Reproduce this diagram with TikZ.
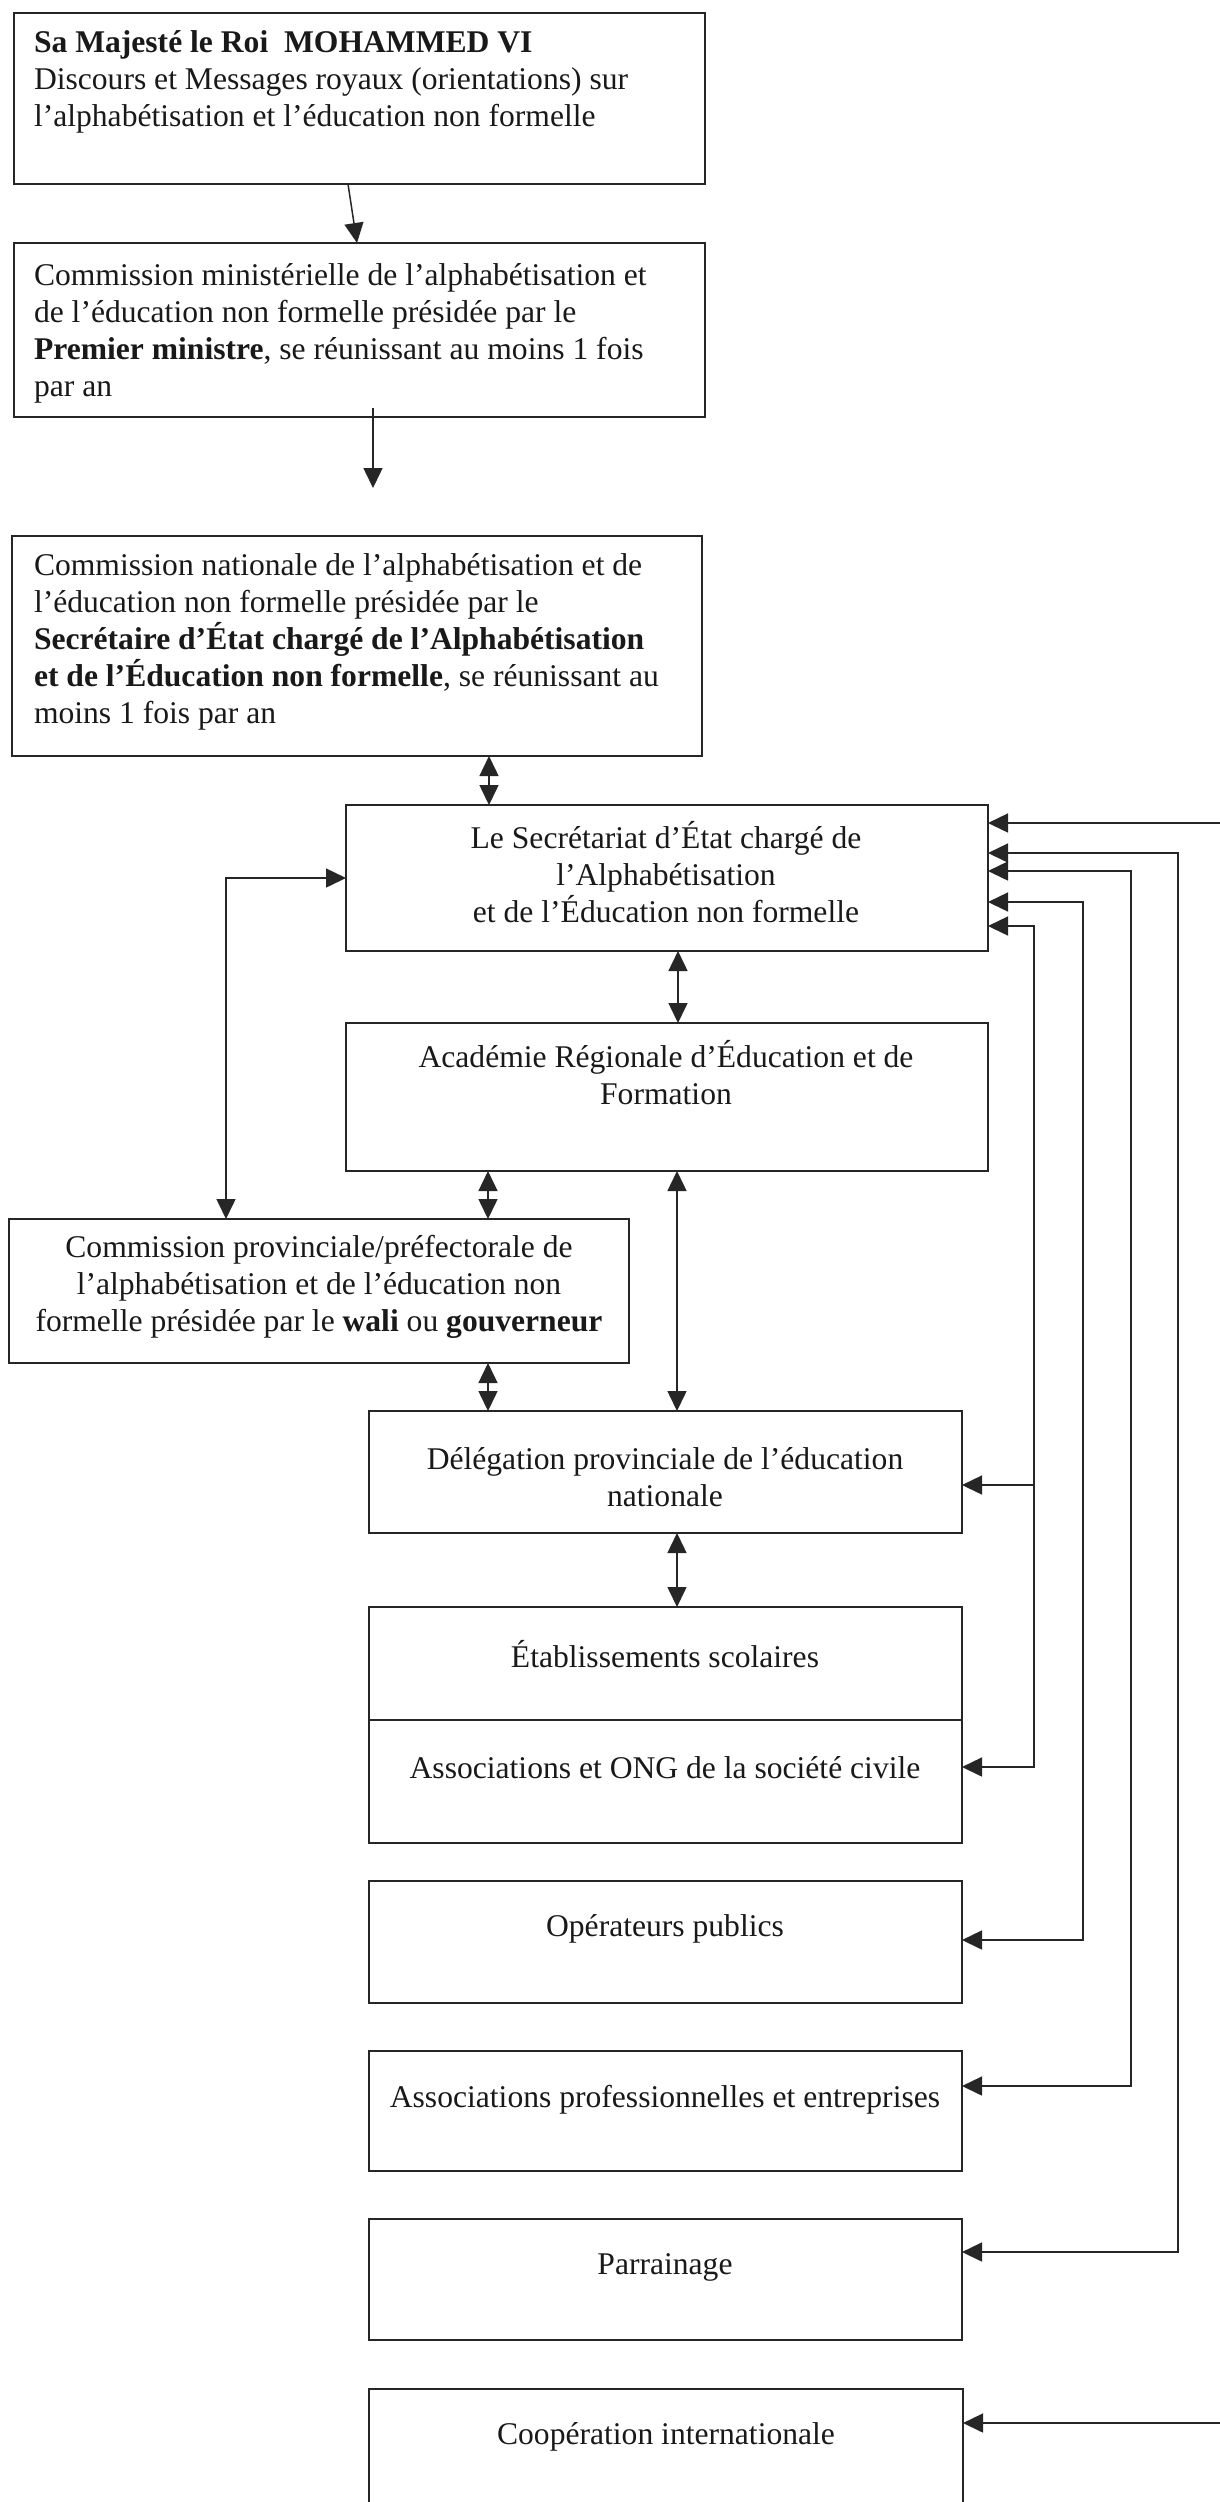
\documentclass[tikz,border=0pt]{standalone}
\usepackage{fontspec}
\setmainfont{Liberation Serif}
\usetikzlibrary{arrows.meta}
\begin{document}
\begin{tikzpicture}[x=0.5pt,y=-0.5pt,
  >={Triangle[length=10pt,width=9.5pt]},
  box/.style={draw=black!85, line width=0.8pt, anchor=north west, inner sep=0pt, outer sep=0pt},
  txt/.style={inner sep=0pt, outer sep=0pt, text=black!90, font=\fontsize{15.8pt}{18.5pt}\selectfont},
  con/.style={draw=black!85, line width=0.75pt}
  ]
\useasboundingbox (0,0) rectangle (1220,2502);
\clip (0,0) rectangle (1220,2502);
\fill[white] (0,0) rectangle (1220,2502);

% boxes
\node[box, minimum width=345.5pt, minimum height=85.5pt] (b1) at (14,13) {};
\node[box, minimum width=345.5pt, minimum height=87pt] (b2) at (14,243) {};
\node[box, minimum width=345pt, minimum height=110pt] (b3) at (12,536) {};
\node[box, minimum width=321pt, minimum height=73pt] (b4) at (346,805) {};
\node[box, minimum width=321pt, minimum height=74pt] (b5) at (346,1023) {};
\node[box, minimum width=310pt, minimum height=72pt] (b6) at (9,1219) {};
\node[box, minimum width=296.5pt, minimum height=61pt] (b7) at (369,1411) {};
\node[box, minimum width=296.5pt, minimum height=56.5pt] (b8) at (369,1607) {};
\node[box, minimum width=296.5pt, minimum height=61.5pt] (b9) at (369,1720) {};
\node[box, minimum width=296.5pt, minimum height=61pt] (b10) at (369,1881) {};
\node[box, minimum width=296.5pt, minimum height=60pt] (b11) at (369,2051) {};
\node[box, minimum width=296.5pt, minimum height=60.5pt] (b12) at (369,2219) {};
\node[box, minimum width=297pt, minimum height=100pt] (b13) at (369,2389) {};

% texts
\node[txt, anchor=west, align=left] (t1) at (34,82) {\textbf{Sa Majesté le Roi\ \ MOHAMMED VI}\\Discours et Messages royaux (orientations) sur\\l’alphabétisation et l’éducation non formelle};
\node[txt, anchor=west, align=left] (t2) at (34,333) {Commission ministérielle de l’alphabétisation et\\de l’éducation non formelle présidée par le\\\textbf{Premier ministre}, se réunissant au moins 1 fois\\par an};
\node[txt, anchor=west, align=left] (t3) at (34,642) {Commission nationale de l’alphabétisation et de\\l’éducation non formelle présidée par le\\\textbf{Secrétaire d’État chargé de l’Alphabétisation}\\\textbf{et de l’Éducation non formelle}, se réunissant au\\moins 1 fois par an};
\node[txt, align=center] (t4) at (666,872) {Le Secrétariat d’État chargé de\\l’Alphabétisation\\et de l’Éducation non formelle};
\node[txt, align=center] (t5) at (666,1073) {Académie Régionale d’Éducation et de\\Formation};
\node[txt, align=center] (t6) at (319,1287) {Commission provinciale/préfectorale de\\l’alphabétisation et de l’éducation non\\formelle présidée par le \textbf{wali} ou \textbf{gouverneur}};
\node[txt, align=center] (t7) at (665,1477) {Délégation provinciale de l’éducation\\nationale};
\node[txt] (t8) at (665,1654) {Établissements scolaires};
\node[txt] (t9) at (665,1768) {Associations et ONG de la société civile};
\node[txt] (t10) at (665,1929) {Opérateurs publics};
\node[txt] (t11) at (665,2100) {Associations professionnelles et entreprises};
\node[txt] (t12) at (665,2267) {Parrainage};
\node[txt] (t13) at (666,2437) {Coopération internationale};

% helper coordinates
\coordinate (a2end) at (373,488);
\coordinate (xd1) at (489,0);
\coordinate (xd2) at (678,0);
\coordinate (xd3) at (488,0);
\coordinate (xm) at (677,0);
\coordinate (xloop) at (226,0);
\coordinate (xB) at (1178,0);
\coordinate (xC) at (1131,0);
\coordinate (xD) at (1083,0);
\coordinate (xE) at (1034,0);
\coordinate (xR) at (1220,0);
\coordinate (yR) at (0,823);
\coordinate (yB) at (0,853);
\coordinate (yC) at (0,871);
\coordinate (yD) at (0,902);
\coordinate (yE) at (0,926);
\coordinate (yL) at (0,878);
\coordinate (yE7) at (0,1485);
\coordinate (yE9) at (0,1767);
\coordinate (yD10) at (0,1940);
\coordinate (yC11) at (0,2086);
\coordinate (yB12) at (0,2252);
\coordinate (yR13) at (0,2423);

% connectors
\draw[con,->] ([xshift=167pt]b1.south west) -- ([xshift=171.5pt]b2.north west);
\draw[con,->] ([xshift=179.5pt,yshift=4.5pt]b2.south west) -- (a2end);
\draw[con,<->] (b3.south -| xd1) -- (b4.north -| xd1);
\draw[con,<->] (b4.south -| xd2) -- (b5.north -| xd2);
\draw[con,<->] (b5.south -| xd3) -- (b6.north -| xd3);
\draw[con,<->] (b6.south -| xd3) -- (b7.north -| xd3);
\draw[con,<->] (b5.south -| xm) -- (b7.north -| xm);
\draw[con,<->] (b7.south -| xm) -- (b8.north -| xm);
\draw[con,<->] (b4.west |- yL) -| (b6.north -| xloop);

\draw[con,->] (xR |- yR) -- (b4.east |- yR);
\draw[con,<->] (b4.east |- yB) -| (xB |- yB12) -- (b12.east |- yB12);
\draw[con,<->] (b4.east |- yC) -| (xC |- yC11) -- (b11.east |- yC11);
\draw[con,<->] (b4.east |- yD) -| (xD |- yD10) -- (b10.east |- yD10);
\draw[con,<->] (b4.east |- yE) -| (xE |- yE9) -- (b9.east |- yE9);
\draw[con,->] (xE |- yE7) -- (b7.east |- yE7);
\draw[con,->] (xR |- yR13) -- (b13.east |- yR13);
\end{tikzpicture}
\end{document}
